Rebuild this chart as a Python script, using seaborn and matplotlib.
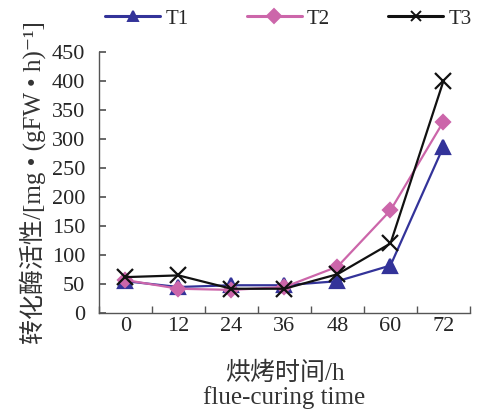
import matplotlib
matplotlib.use("Agg")
import matplotlib.pyplot as plt
import seaborn as sns
import pandas as pd
from matplotlib.lines import Line2D

times = ["0", "12", "24", "36", "48", "60", "72"]
t1 = [55, 45, 48, 48, 55, 82, 287]
t2 = [57, 42, 40, 45, 80, 177, 330]
t3 = [62, 65, 42, 42, 67, 120, 400]
series_names = ["T1", "T2", "T3"]
colors = ["#333399", "#CC66AA", "#111111"]
markers = ["^", "D", "x"]

sns.set_theme(style="white")
plt.rcParams["font.family"] = ["Liberation Serif", "Noto Sans CJK SC", "DejaVu Sans"]
plt.rcParams["font.size"] = 16

fig = plt.figure(figsize=(4.85, 4.12), dpi=100)
ax = fig.add_axes([0.204, 0.240, 0.765, 0.634])

for name, vals, c, m in zip(series_names, [t1, t2, t3], colors, markers):
    d = pd.DataFrame({"pos": range(len(vals)), "value": vals})
    ms = 12 if m == "x" else (10 if m == "^" else 7.5)
    sns.lineplot(data=d, x="pos", y="value", color=c, marker=m, markersize=ms,
                 markeredgewidth=1.6, markeredgecolor=c, linewidth=1.6, ax=ax)

ax.set_xlim(-0.5, 6.5)
ax.set_ylim(0, 450)
ax.set_yticks(range(0, 451, 50))
ax.set_xticks(range(len(times)))
ax.set_xticklabels(times)
ax.set_xticks([i - 0.5 for i in range(len(times) + 1)], minor=True)
ax.tick_params(axis="x", which="major", length=0, labelsize=16, pad=3)
ax.tick_params(axis="x", which="minor", direction="in", length=5, color="#555555", bottom=True)
ax.tick_params(axis="y", direction="in", length=5, color="#555555", labelsize=16, left=True, pad=10)
for s in ["top", "right"]:
    ax.spines[s].set_visible(False)
for s in ["left", "bottom"]:
    ax.spines[s].set_color("#555555")
    ax.spines[s].set_linewidth(1.0)

ax.set_ylabel("转化酶活性/[mg • (gFW • h)⁻¹]", fontsize=18, labelpad=4, color="#333333")
ax.set_xlabel("烘烤时间/h\nflue-curing time", fontsize=18, linespacing=1.1, labelpad=18,
              color="#333333")

handles = [Line2D([], [], color=c, marker=m, markersize=7, markeredgewidth=1.4, linewidth=2.2)
           for c, m in zip(colors, markers)]
fig.legend(handles, series_names, loc="upper left", bbox_to_anchor=(0.2165, 0.978), ncol=3,
           frameon=False, handlelength=2.64, columnspacing=2.8, fontsize=15, handletextpad=0.25,
           borderaxespad=0.0, borderpad=0.0)

fig.savefig("out.png", dpi=100)
